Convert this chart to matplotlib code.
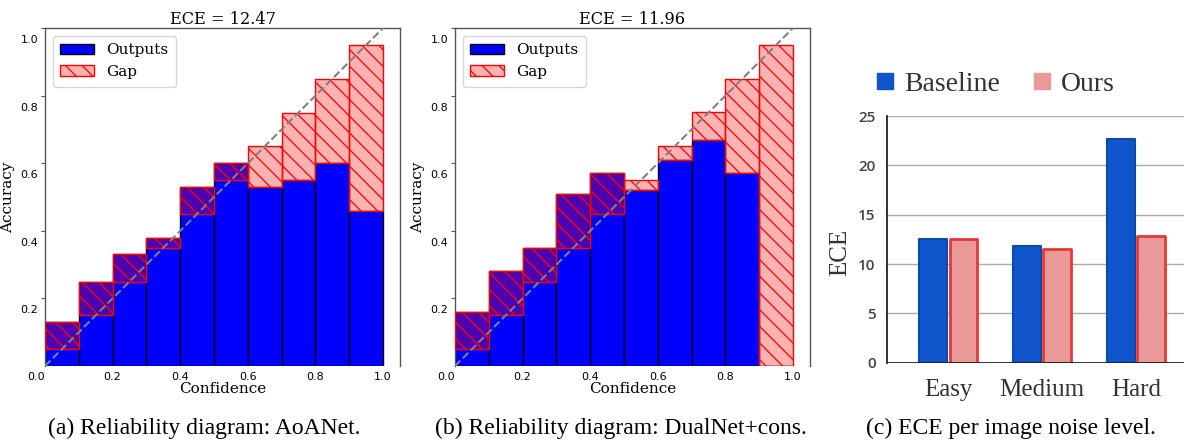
import numpy as np
import matplotlib
matplotlib.use('Agg')
import matplotlib.pyplot as plt
import matplotlib.transforms as mtrans
from matplotlib.lines import Line2D

# ---------------- data ----------------
bin_left = [0.0, 0.1, 0.2, 0.3, 0.4, 0.5, 0.6, 0.7, 0.8, 0.9]
conf_mid = [0.05, 0.15, 0.25, 0.35, 0.45, 0.55, 0.65, 0.75, 0.85, 0.95]
acc_a = [0.13, 0.25, 0.33, 0.38, 0.53, 0.60, 0.53, 0.55, 0.60, 0.46]
acc_b = [0.16, 0.28, 0.35, 0.51, 0.57, 0.52, 0.61, 0.67, 0.57, 0.0]
ece_a = 12.47
ece_b = 11.96

levels = ['Easy', 'Medium', 'Hard']
baseline = [12.5, 11.8, 22.7]
ours = [12.5, 11.5, 12.8]

captions = ['(a) Reliability diagram: AoANet.',
            '(b) Reliability diagram: DualNet+cons.',
            '(c) ECE per image noise level.']

plt.rcParams['hatch.linewidth'] = 0.9

W, H = 1184, 445
fig = plt.figure(figsize=(W / 100, H / 100), dpi=100)


def frac(l, t, r, b):
    return [l / W, (H - b) / H, (r - l) / W, (b - t) / H]


def shift(lab, dx_px, dy_px):
    lab.set_transform(lab.get_transform() +
                      mtrans.ScaledTranslation(dx_px / 100, dy_px / 100, fig.dpi_scale_trans))


def reliability(ax, acc, conf, ece):
    acc = np.array(acc)
    conf = np.array(conf)
    ax.bar(bin_left, acc, width=0.1, align='edge', color='blue',
           edgecolor='black', linewidth=1, label='Outputs', zorder=2)
    ax.bar(bin_left, conf - acc, bottom=acc, width=0.1, align='edge',
           facecolor=(1, 0, 0, 0.3), edgecolor='red', hatch='\\\\',
           linewidth=1, label='Gap', zorder=3)
    ax.plot([0, 1], [0, 1], '--', color='gray', lw=1.5, zorder=4)
    ax.set_xlim(0, 1.05)
    ax.set_ylim(0, 1.0)
    ax.set_xticks([0.0, 0.2, 0.4, 0.6, 0.8, 1.0])
    ax.set_yticks([0.2, 0.4, 0.6, 0.8, 1.0])
    ax.tick_params(axis='x', length=0, pad=4, labelsize=8)
    ax.tick_params(axis='y', length=3, color='#555555', labelsize=8, pad=2)
    for lab in ax.get_yticklabels():
        shift(lab, 0, -11)
    shift(ax.get_xticklabels()[0], -9, 0)
    for s in ['top', 'left', 'right']:
        ax.spines[s].set_color('#555555')
        ax.spines[s].set_linewidth(1)
    ax.spines['bottom'].set_visible(False)
    ax.set_title(f'ECE = {ece:.2f}', family='DejaVu Serif', fontsize=11.6, pad=3)
    ax.set_xlabel('Confidence', family='DejaVu Serif', fontsize=11, labelpad=0)
    ax.set_ylabel('Accuracy', family='DejaVu Serif', fontsize=11)
    ax.yaxis.set_label_coords(-0.085, 0.5)
    ax.legend(loc='upper left', prop={'family': 'DejaVu Serif', 'size': 11},
              handlelength=2.2, borderpad=0.5, labelspacing=0.5)


axa = fig.add_axes(frac(45, 28, 400, 366))
reliability(axa, acc_a, conf_mid, ece_a)
axb = fig.add_axes(frac(455, 28, 810, 366))
reliability(axb, acc_b, conf_mid, ece_b)

# ---------------- panel c ----------------
axc = fig.add_axes(frac(887, 116, 1184, 362.7))
x = np.arange(len(levels))
axc.bar(x - 0.16, baseline, 0.29, color='#1155cc', edgecolor='#0d4ab0',
        linewidth=1.5, joinstyle='round', zorder=3)
axc.bar(x + 0.16, ours, 0.29, color='#ea9999', edgecolor='#e53935',
        linewidth=2, joinstyle='round', zorder=3)
axc.set_xlim(-0.65, 2.51)
axc.set_ylim(0, 25)
axc.set_yticks([0, 5, 10, 15, 20, 25])
axc.yaxis.grid(True, color='#aaaaaa', linewidth=1, zorder=0)
axc.set_axisbelow(True)
axc.axhline(0, color='#222222', linewidth=1.3, zorder=4)
for s in ['top', 'right', 'bottom']:
    axc.spines[s].set_visible(False)
axc.spines['left'].set_color('#222222')
axc.spines['left'].set_linewidth(1.3)
axc.set_xticks(x)
axc.set_xticklabels(levels, family='Liberation Serif', fontsize=18, color='#333333')
axc.tick_params(axis='x', length=0, pad=12)
axc.tick_params(axis='y', length=0, pad=8, labelsize=11, labelcolor='#444444')
for lab in axc.get_yticklabels():
    lab.set_family('Open Sans')
    lab.set_fontweight('semibold')
axc.set_ylabel('ECE', family='Liberation Serif', fontsize=18, color='#333333')
axc.yaxis.set_label_coords(-0.12, 0.445)

handles = [Line2D([], [], marker='s', linestyle='none', markersize=12,
                  markerfacecolor='#1155cc', markeredgecolor='#1155cc'),
           Line2D([], [], marker='s', linestyle='none', markersize=12,
                  markerfacecolor='#ea9999', markeredgecolor='#ea9999')]
fig.legend(handles, ['Baseline', 'Ours'], loc='center', ncol=2,
           bbox_to_anchor=(993 / W, (H - 84) / H), frameon=False,
           prop={'family': 'Liberation Serif', 'size': 20},
           handletextpad=0.2, columnspacing=1.0, handlelength=1.0,
           labelcolor='#333333')

# ---------------- captions ----------------
for cx, txt in zip([204, 621, 1011], captions):
    fig.text(cx / W, (H - 428) / H, txt, ha='center', va='center',
             family='Liberation Serif', fontsize=17)

fig.savefig('out.png', dpi=100)
